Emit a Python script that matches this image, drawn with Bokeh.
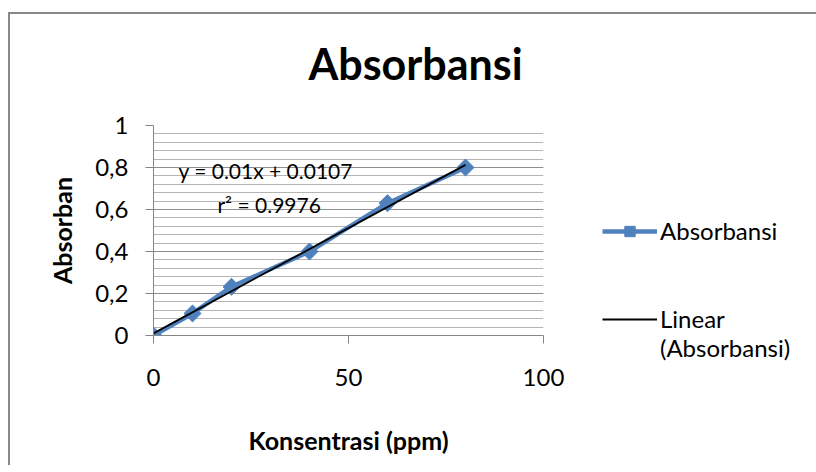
import numpy as np
from bokeh.plotting import figure
from bokeh.models import FixedTicker, Label, Legend, LegendItem, Range1d
from bokeh.embed import file_html
from bokeh.resources import INLINE

# ---- data ----
konsentrasi = [0, 10, 20, 40, 60, 80]
absorbansi = [0.0, 0.105, 0.232, 0.400, 0.630, 0.800]
x_ticks = [0, 50, 100]
y_ticks = [0, 0.2, 0.4, 0.6, 0.8, 1.0]
y_tick_labels = ["0", "0,2", "0,4", "0,6", "0,8", "1"]
title_text = "Absorbansi"
x_label = "Konsentrasi (ppm)"
y_label = "Absorban"
series_name = "Absorbansi"
trend_name = " \nLinear\n(Absorbansi)"
trend_text = "y = 0.01x + 0.0107"
r2_text = "r² = 0.9976"

slope, intercept = np.polyfit(konsentrasi, absorbansi, 1)
trend_x = [min(konsentrasi), max(konsentrasi)]
trend_y = [slope * xv + intercept for xv in trend_x]

FONT = "Lato"
BLUE = "#4F81BD"
GRID_MAJOR = "#8f8f8f"
GRID_MINOR = "#b5b5b5"
AXIS = "#868686"
FRAME_LINE = "#888888"

chart_border = (f"linear-gradient({FRAME_LINE}, {FRAME_LINE}) 0 12px / 100% 2px no-repeat, "
                f"linear-gradient({FRAME_LINE}, {FRAME_LINE}) 0 12px / 2px 100% no-repeat, white")

p = figure(frame_width=390, frame_height=210,
           x_range=Range1d(0, 100), y_range=Range1d(0, 1),
           output_backend="svg", toolbar_location=None,
           min_border_left=145, min_border_right=267,
           min_border_top=125, min_border_bottom=130,
           outline_line_color=None,
           background_fill_color="white", border_fill_color=None,
           margin=(0, 0, 0, 8),
           styles={"background": chart_border})

# title
p.title.text = title_text
p.title.align = "left"
p.title.vertical_align = "top"
p.title.offset = 155
p.title.standoff = 70
p.title.text_font = FONT
p.title.text_font_style = "bold"
p.title.text_font_size = "43px"
p.title.text_color = "black"

# grids
p.xgrid.grid_line_color = None
yt = FixedTicker(ticks=y_ticks,
                 minor_ticks=[round(v, 2) for v in np.arange(0, 1.0001, 0.04)])
p.yaxis.ticker = yt
p.ygrid.ticker = yt
p.ygrid.grid_line_color = GRID_MAJOR
p.ygrid.grid_line_width = 1
p.ygrid.minor_grid_line_color = GRID_MINOR
p.ygrid.minor_grid_line_width = 1
p.xaxis.ticker = FixedTicker(ticks=x_ticks)

# axes
for ax in (p.xaxis, p.yaxis):
    ax.axis_line_color = AXIS
    ax.axis_line_width = 1
    ax.major_tick_line_color = AXIS
    ax.major_tick_in = 0
    ax.major_tick_out = 8
    ax.minor_tick_line_color = None
    ax.major_label_text_font = FONT
    ax.major_label_text_font_size = "24px"
    ax.major_label_text_color = "black"
    ax.axis_label_text_font = FONT
    ax.axis_label_text_font_style = "bold"
    ax.axis_label_text_font_size = "25px"
    ax.axis_label_text_color = "black"

p.yaxis.major_label_overrides = dict(zip(y_ticks, y_tick_labels))
p.yaxis.major_label_standoff = 17
p.xaxis.major_label_standoff = 25
p.xaxis.axis_label = x_label
p.yaxis.axis_label = y_label
p.xaxis.axis_label_standoff = 36
p.yaxis.axis_label_standoff = 15

# series
line_r = p.line(konsentrasi, absorbansi, line_color=BLUE, line_width=4.5)
mark_r = p.scatter(konsentrasi, absorbansi, marker="square", size=12, angle=np.pi / 4,
                   fill_color=BLUE, line_color=BLUE)
trend_r = p.line(trend_x, trend_y, line_color="black", line_width=1.8)

# equation texts
p.add_layout(Label(x=6.4, y=0.786, text=trend_text, text_align="left",
                   text_baseline="middle", text_font=FONT, text_font_size="21px",
                   text_color="black"))
p.add_layout(Label(x=16.4, y=0.624, text=r2_text, text_align="left",
                   text_baseline="middle", text_font=FONT, text_font_size="21px",
                   text_color="black"))

legend = Legend(items=[LegendItem(label=series_name, renderers=[line_r, mark_r]),
                       LegendItem(label=trend_name, renderers=[trend_r])],
                location=(59, -27), glyph_width=55, glyph_height=26,
                label_standoff=3, spacing=30, padding=0, margin=0,
                border_line_color=None, background_fill_alpha=0,
                label_text_font=FONT, label_text_font_size="24px",
                label_text_line_height=1.05,
                label_text_color="black")
p.add_layout(legend, "right")

open("out.html", "w").write(file_html(p, INLINE))
